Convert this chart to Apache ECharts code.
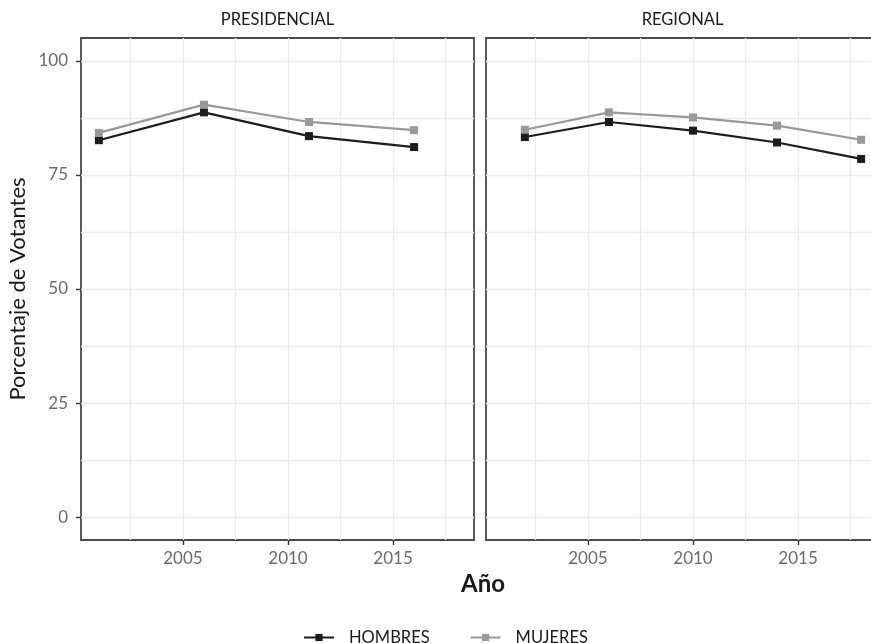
<!DOCTYPE html>
<html>
<head>
<meta charset="utf-8">
<script src="https://cdn.jsdelivr.net/npm/echarts@6/dist/echarts.min.js"></script>
<style>
  html, body { margin: 0; padding: 0; background: #ffffff; overflow: hidden; }
  #chart { width: 890px; height: 643px; }
</style>
</head>
<body>
<div id="chart"></div>
<script>
// Voter turnout by sex, presidential and regional elections
const PANELS = ['PRESIDENCIAL', 'REGIONAL'];
const SERIES_NAMES = ['HOMBRES', 'MUJERES'];

const PRES_YEARS = [2001, 2006, 2011, 2016];
const PRES_HOMBRES = [82.6, 88.7, 83.5, 81.1];
const PRES_MUJERES = [84.2, 90.4, 86.6, 84.8];

const REG_YEARS = [2002, 2006, 2010, 2014, 2018];
const REG_HOMBRES = [83.3, 86.6, 84.7, 82.1, 78.5];
const REG_MUJERES = [84.9, 88.7, 87.6, 85.8, 82.7];

const X_TICKS = [2005, 2010, 2015];
const X_GRID = [2002.5, 2005, 2007.5, 2010, 2012.5, 2015, 2017.5];
const Y_TICKS = [0, 25, 50, 75, 100];
const Y_GRID = [0, 12.5, 25, 37.5, 50, 62.5, 75, 87.5, 100];

const X_TITLE = 'Año';
const Y_TITLE = 'Porcentaje de Votantes';

// Shared x range across both panels, padded by 5% on each side
const allYears = PRES_YEARS.concat(REG_YEARS);
const yrMin = Math.min(...allYears), yrMax = Math.max(...allYears);
const pad = (yrMax - yrMin) * 0.05;
const X_MIN = yrMin - pad, X_MAX = yrMax + pad;
const Y_MIN = -5, Y_MAX = 105;

const FONT = 'Lato';
const COLORS = { HOMBRES: '#1c1c1c', MUJERES: '#999999' };

const panelData = [
  { years: PRES_YEARS, HOMBRES: PRES_HOMBRES, MUJERES: PRES_MUJERES },
  { years: REG_YEARS, HOMBRES: REG_HOMBRES, MUJERES: REG_MUJERES }
];

const gridBox = [
  { left: 81, top: 38, width: 393, height: 502 },
  { left: 486, top: 38, width: 393, height: 502 }
];

const grids = gridBox.map(g => Object.assign({
  show: true, borderColor: '#4a4a4a', borderWidth: 1.8, backgroundColor: 'transparent', containLabel: false
}, g));

const gridLine = { show: true, lineStyle: { color: '#ebebeb', width: 1.3 } };
const tickStyle = { color: '#333333', width: 1.4 };
const plain = v => String(v);

const xAxes = [], yAxes = [];
PANELS.forEach((p, i) => {
  // axis carrying ticks and labels
  xAxes.push({
    type: 'value', gridIndex: i, min: X_MIN, max: X_MAX, position: 'bottom',
    axisLine: { show: false, onZero: false },
    axisTick: { show: true, customValues: X_TICKS, length: 5, lineStyle: tickStyle },
    axisLabel: { customValues: X_TICKS, formatter: plain, color: '#6b6b6b', fontSize: 17, fontFamily: FONT, margin: 10 },
    splitLine: { show: false }
  });
  // axis carrying only the vertical grid lines
  xAxes.push({
    type: 'value', gridIndex: i, min: X_MIN, max: X_MAX, position: 'bottom',
    axisLine: { show: false, onZero: false },
    axisTick: { show: false, customValues: X_GRID },
    axisLabel: { show: false },
    splitLine: gridLine
  });
  yAxes.push({
    type: 'value', gridIndex: i, min: Y_MIN, max: Y_MAX, position: 'left',
    axisLine: { show: false, onZero: false },
    axisTick: { show: i === 0, customValues: Y_TICKS, length: 5, lineStyle: tickStyle },
    axisLabel: { show: i === 0, customValues: Y_TICKS, formatter: plain, color: '#6b6b6b', fontSize: 17, fontFamily: FONT, margin: 13 },
    splitLine: { show: false },
    name: i === 0 ? Y_TITLE : '',
    nameLocation: 'middle', nameGap: 52, nameRotate: 90,
    nameTextStyle: { color: '#1a1a1a', fontSize: 22, fontFamily: FONT }
  });
  yAxes.push({
    type: 'value', gridIndex: i, min: Y_MIN, max: Y_MAX, position: 'left',
    axisLine: { show: false, onZero: false },
    axisTick: { show: false, customValues: Y_GRID },
    axisLabel: { show: false },
    splitLine: gridLine
  });
});

const series = [];
panelData.forEach((d, i) => {
  SERIES_NAMES.forEach(name => {
    series.push({
      type: 'line', name: name,
      xAxisIndex: 2 * i, yAxisIndex: 2 * i,
      data: d.years.map((yr, k) => [yr, d[name][k]]),
      symbol: 'rect', symbolSize: 8,
      color: COLORS[name],
      lineStyle: { width: 2.2, color: COLORS[name] },
      itemStyle: { color: COLORS[name] },
      emphasis: { disabled: true },
      z: 5
    });
  });
});

const stripTexts = PANELS.map((p, i) => ({
  type: 'text',
  x: gridBox[i].left + gridBox[i].width / 2, y: 20,
  style: { text: p, align: 'center', verticalAlign: 'middle', fill: '#1a1a1a', font: '16.5px ' + FONT }
}));

const option = {
  animation: false,
  backgroundColor: '#ffffff',
  grid: grids,
  xAxis: xAxes,
  yAxis: yAxes,
  series: series,
  legend: {
    data: SERIES_NAMES, left: 303, top: 629, padding: 0,
    itemWidth: 30, itemHeight: 9, itemGap: 40,
    textStyle: { color: '#1a1a1a', fontSize: 16.5, fontFamily: FONT, padding: [0, 0, 0, 10] }
  },
  graphic: stripTexts.concat([{
    type: 'text', x: 483, y: 584,
    style: { text: X_TITLE, align: 'center', verticalAlign: 'middle', fill: '#1a1a1a', font: 'bold 24px ' + FONT }
  }])
};

const chart = echarts.init(document.getElementById('chart'), null, { renderer: 'canvas' });
chart.setOption(option);
</script>
</body>
</html>
